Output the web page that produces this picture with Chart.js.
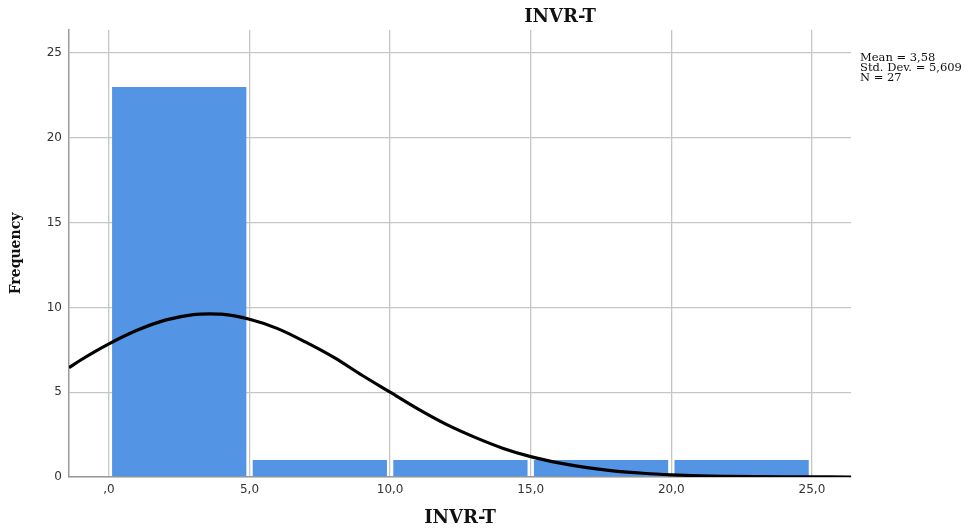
<!DOCTYPE html>
<html>
<head>
<meta charset="utf-8">
<script src="https://cdn.jsdelivr.net/npm/chart.js@4.4.0/dist/chart.umd.min.js"></script>
<style>
  html, body { margin: 0; padding: 0; background: #fff; }
</style>
</head>
<body>
<canvas id="hist" width="975" height="530"></canvas>
<script>
// histogram bins (centres) and counts
const binCenters = [2.5, 7.5, 12.5, 17.5, 22.5];
const binCounts = [23, 1, 1, 1, 1];

// normal curve
const curveX = [-1.42, -1, 0, 1, 2, 3, 3.58, 4, 5, 6, 7, 8, 9, 10, 11, 12, 13, 14, 15, 16, 17, 18, 19, 20, 21, 22, 23, 24, 25, 26.39];
const curveY = [6.45, 6.9, 7.85, 8.65, 9.25, 9.58, 9.62, 9.6, 9.3, 8.75, 7.95, 7.05, 6.0, 5.0, 4.0, 3.1, 2.35, 1.7, 1.2, 0.83, 0.55, 0.35, 0.22, 0.13, 0.07, 0.04, 0.02, 0.01, 0.005, 0];

const xTicks = [0, 5, 10, 15, 20, 25];
const xTickLabels = [',0', '5,0', '10,0', '15,0', '20,0', '25,0'];
const yTicks = [0, 5, 10, 15, 20, 25];

const statLines = ['Mean = 3,58', 'Std. Dev. = 5,609', 'N = 27'];
const chartTitle = 'INVR-T';

const textPlugin = {
  id: 'textPlugin',
  afterDraw(chart) {
    const ctx = chart.ctx;
    ctx.save();
    ctx.fillStyle = '#111';
    ctx.font = 'bold 18px "DejaVu Serif"';
    ctx.textAlign = 'center';
    ctx.textBaseline = 'middle';
    ctx.fillText(chartTitle, 560, 17);

    ctx.font = '11.5px "DejaVu Serif"';
    ctx.textAlign = 'left';
    ctx.textBaseline = 'alphabetic';
    statLines.forEach((s, i) => ctx.fillText(s, 860, 61 + i * 10));
    ctx.restore();
  }
};

const barData = binCenters.map((c, i) => ({ x: c, y: binCounts[i] }));
const lineData = curveX.map((x, i) => ({ x: x, y: curveY[i] }));

new Chart(document.getElementById('hist').getContext('2d'), {
  data: {
    datasets: [
      {
        type: 'line',
        data: lineData,
        borderColor: '#000',
        borderWidth: 3.2,
        pointRadius: 0,
        cubicInterpolationMode: 'monotone',
        order: 0
      },
      {
        type: 'bar',
        data: barData,
        backgroundColor: '#5494e4',
        barPercentage: 0.955,
        categoryPercentage: 1,
        order: 1
      }
    ]
  },
  options: {
    responsive: false,
    animation: false,
    layout: { padding: { top: 30, right: 124, bottom: 0, left: 0 } },
    plugins: {
      legend: { display: false },
      tooltip: { enabled: false }
    },
    scales: {
      x: {
        type: 'linear',
        min: -1.42,
        max: 26.39,
        offset: false,
        afterBuildTicks: s => { s.ticks = xTicks.map(v => ({ value: v })); },
        afterFit: s => { s.height = 53; },
        ticks: {
          callback: (v) => xTickLabels[xTicks.indexOf(v)],
          font: { family: 'DejaVu Sans', size: 12 },
          color: '#333',
          padding: 6,
          maxRotation: 0
        },
        grid: { color: '#c6c6c6', lineWidth: 1.3, drawTicks: false, offset: false },
        border: { display: true, color: '#999', width: 1.5 },
        title: {
          display: true,
          text: 'INVR-T',
          font: { family: 'DejaVu Serif', size: 18, weight: 'bold' },
          color: '#111',
          padding: { top: 0, bottom: 1 }
        }
      },
      y: {
        min: 0,
        max: 26.36,
        afterBuildTicks: s => { s.ticks = yTicks.map(v => ({ value: v })); },
        afterFit: s => { s.width = 69; },
        ticks: {
          font: { family: 'DejaVu Sans', size: 12 },
          color: '#333',
          padding: 7
        },
        grid: { color: '#c6c6c6', lineWidth: 1.3, drawTicks: false },
        border: { display: true, color: '#999', width: 1.5 },
        title: {
          display: true,
          text: 'Frequency',
          font: { family: 'DejaVu Serif', size: 14, weight: 'bold' },
          color: '#111',
          padding: { top: 8, bottom: 0 }
        }
      }
    }
  },
  plugins: [textPlugin]
});
</script>
</body>
</html>
